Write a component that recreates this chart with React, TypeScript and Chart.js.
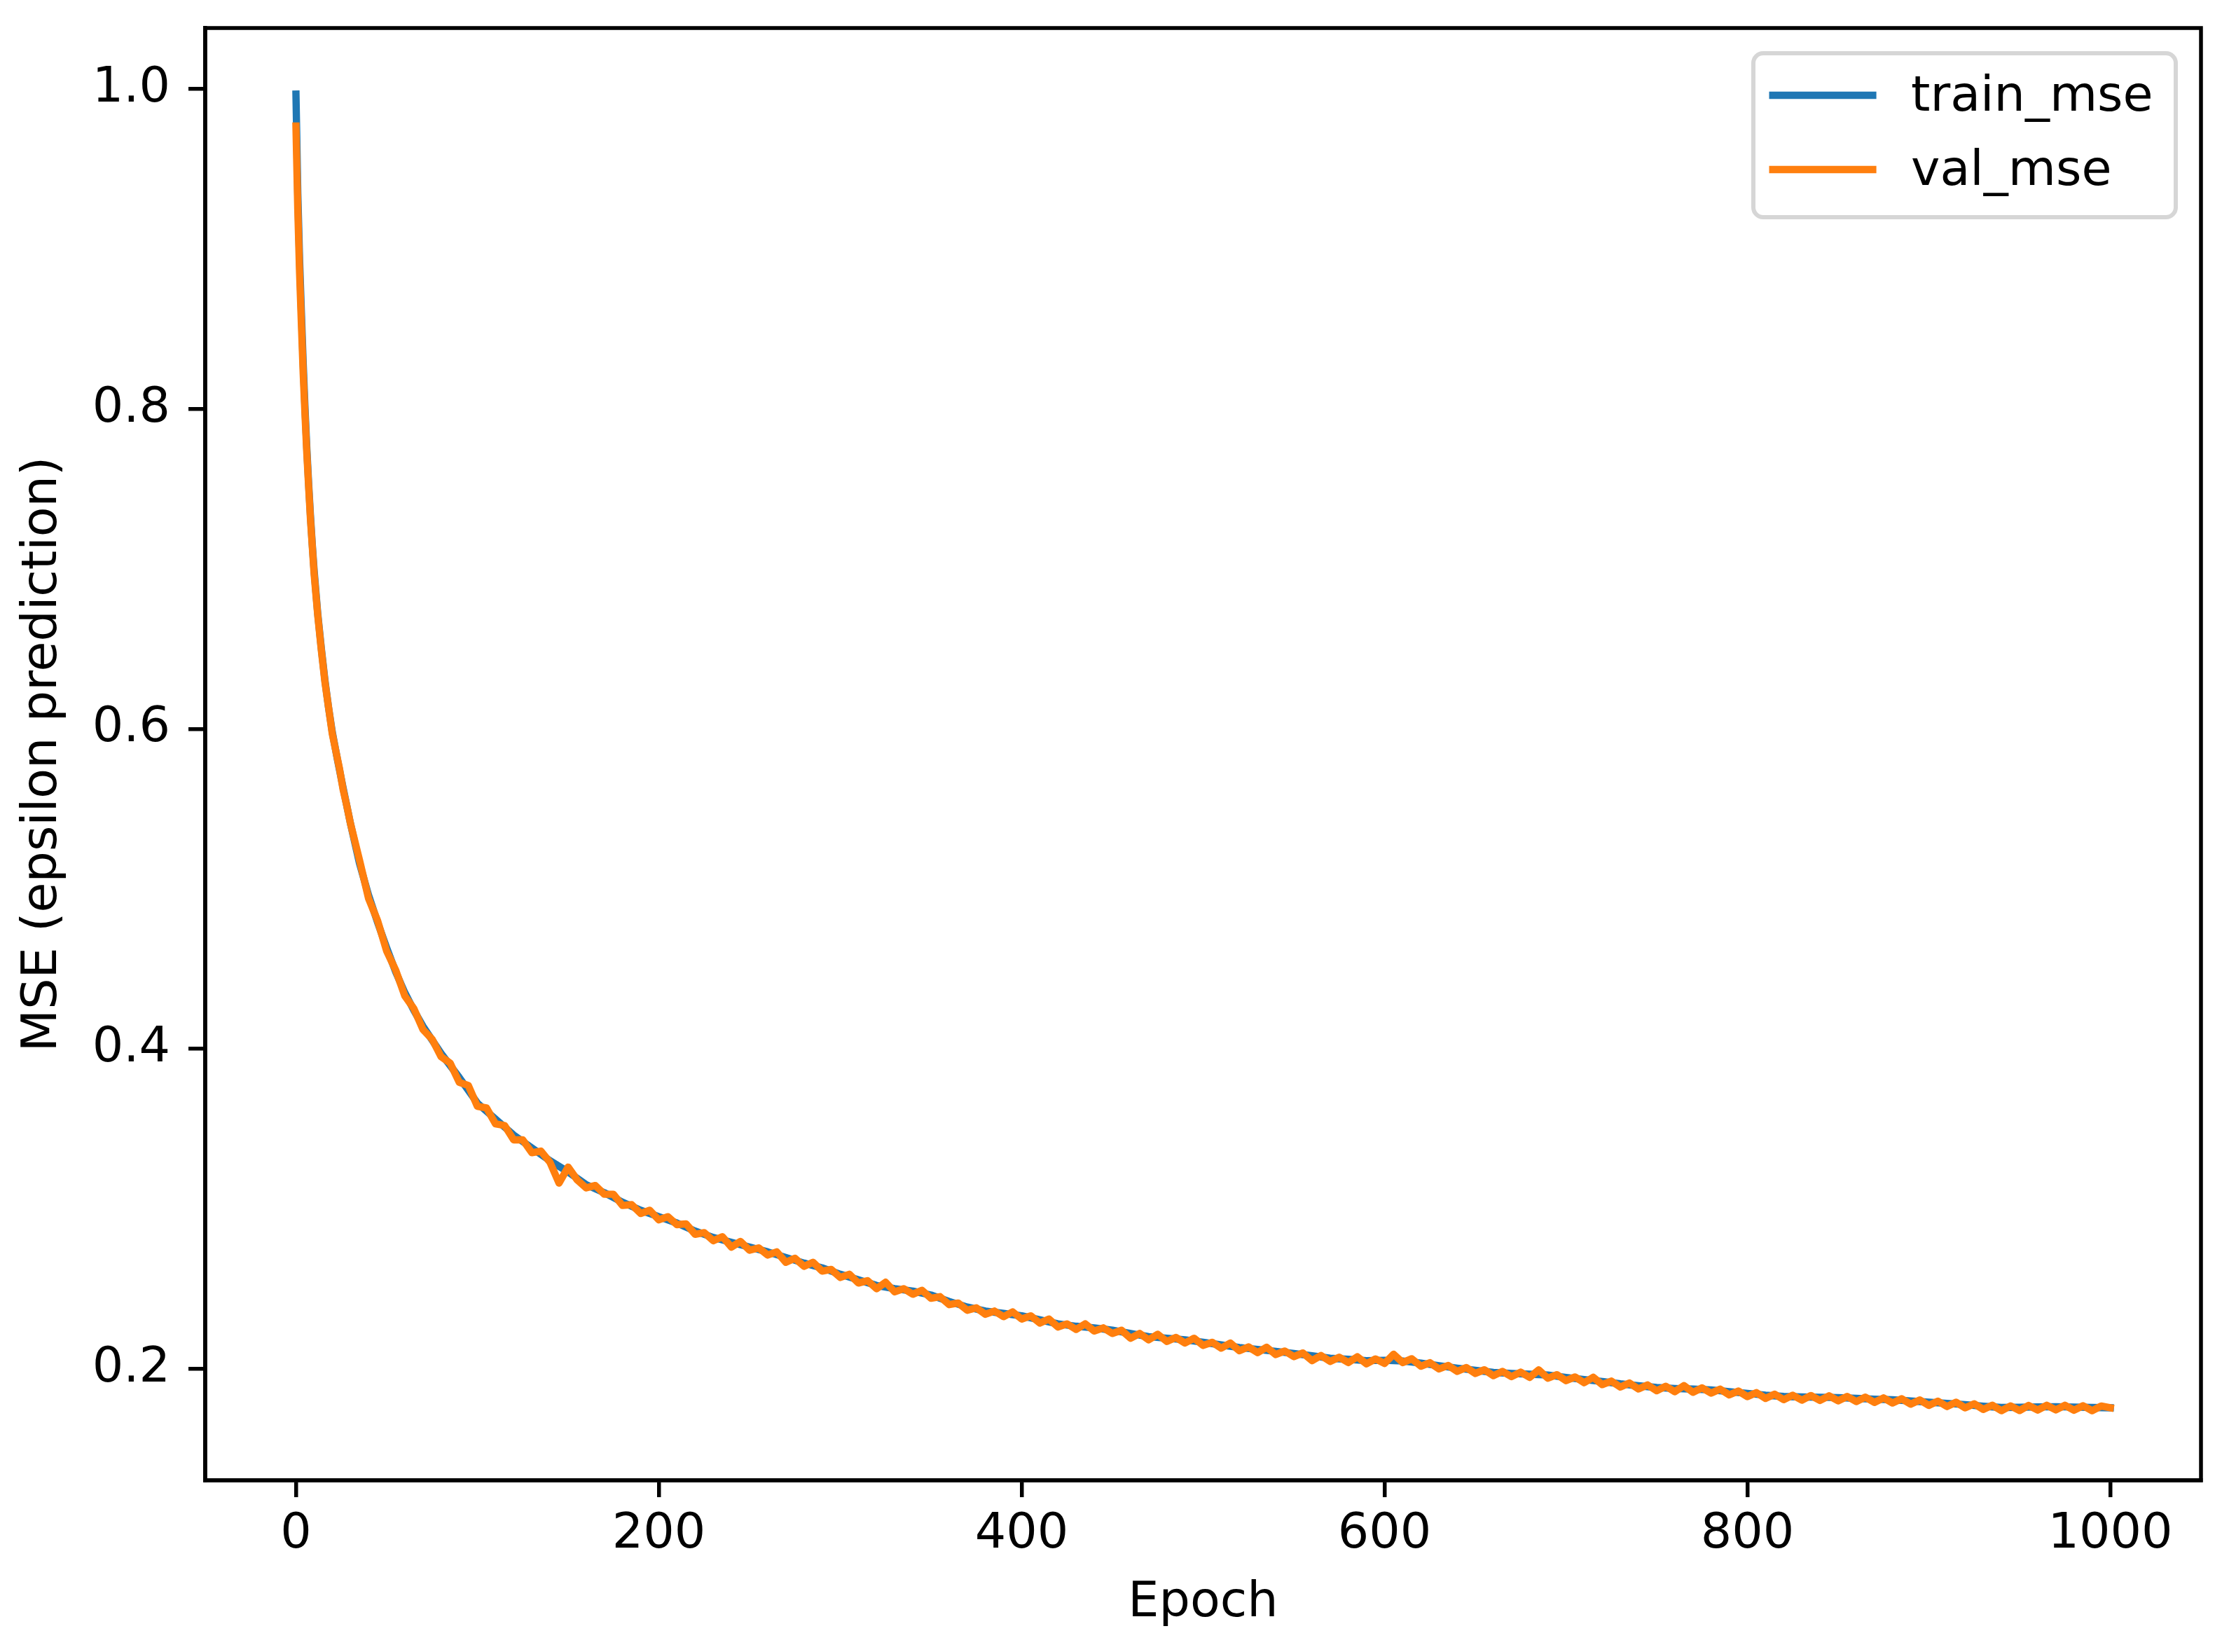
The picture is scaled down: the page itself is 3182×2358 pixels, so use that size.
import React, { useEffect, useRef } from 'react';
import { Chart, registerables } from 'chart.js';

Chart.register(...registerables);

const FONT = "'DejaVu Sans', 'Liberation Sans', sans-serif";

// ---------- data ----------
const seriesLabels = ['train_mse', 'val_mse'];
const seriesColors = ['#1f77b4', '#ff7f0e'];
const xAxisTitle = 'Epoch';
const yAxisTitle = 'MSE (epsilon prediction)';
const xTickValues = [0, 200, 400, 600, 800, 1000];
const yTickValues = [0.2, 0.4, 0.6, 0.8, 1.0];

const trainEpochs = [
  0, 1, 2, 3, 4, 5, 6, 7, 8, 9, 10, 12, 14, 16, 18, 20, 23, 26, 30, 35, 40, 45, 50, 55, 60, 65, 70, 80, 90,
  100, 110, 120, 130, 140, 150, 160, 170, 180, 190, 200, 210, 220, 230, 240, 250, 260, 270, 280, 290,
  300, 310, 320, 330, 340, 350, 360, 370, 380, 390, 400, 410, 420, 430, 440, 450, 460, 470, 480, 490,
  500, 510, 520, 530, 540, 550, 560, 570, 580, 590, 600, 610, 620, 630, 640, 650, 660, 670, 680, 690,
  700, 710, 720, 730, 740, 750, 760, 770, 780, 790, 800, 810, 820, 830, 840, 850, 860, 870, 880, 890,
  900, 910, 920, 930, 940, 950, 960, 970, 980, 990, 1000,
];
const trainMse = [
  0.9968, 0.935, 0.893, 0.86, 0.828, 0.8, 0.775, 0.753, 0.733, 0.715, 0.699, 0.672, 0.65, 0.63, 0.613, 0.598,
  0.58, 0.563, 0.541, 0.516, 0.496, 0.479, 0.463, 0.448, 0.435, 0.424, 0.414, 0.397, 0.382,
  0.366, 0.356, 0.346, 0.338, 0.33, 0.323, 0.315, 0.31, 0.304, 0.299, 0.295, 0.291, 0.286, 0.282, 0.279,
  0.276, 0.273, 0.2695, 0.266, 0.263, 0.259, 0.2555, 0.252, 0.25, 0.2485, 0.246, 0.242, 0.2385, 0.236,
  0.2345, 0.233, 0.2305, 0.228, 0.2265, 0.2255, 0.224, 0.222, 0.22, 0.219, 0.218, 0.2165, 0.2148, 0.2132,
  0.212, 0.2108, 0.2095, 0.208, 0.2065, 0.2058, 0.205, 0.2052, 0.2048, 0.2035, 0.2018, 0.2003, 0.199,
  0.1976, 0.197, 0.1965, 0.196, 0.1945, 0.1932, 0.192, 0.1905, 0.1893, 0.1882, 0.1876, 0.1872, 0.1867,
  0.1856, 0.1845, 0.1834, 0.1826, 0.1823, 0.1821, 0.1819, 0.1814, 0.1809, 0.1805, 0.1798, 0.179, 0.1783,
  0.1775, 0.1765, 0.1757, 0.1758, 0.1761, 0.1762, 0.176, 0.1757, 0.1755,
];

const valEpochs = [
  0, 1, 2, 3, 4, 5, 6, 7, 8, 9, 10, 12, 14, 16, 18, 20, 22, 24, 26, 28, 30,
  35, 40, 45, 50, 55, 60, 65, 70, 75, 80, 85, 90, 95, 100, 105, 110, 115, 120, 125, 130, 135, 140, 145,
  150, 155, 160, 165, 170, 175, 180, 185, 190, 195, 200, 205, 210, 215, 220, 225, 230, 235, 240, 245,
  250, 255, 260, 265, 270, 275, 280, 285, 290, 295, 300, 305, 310, 315, 320, 325, 330, 335, 340, 345,
  350, 355, 360, 365, 370, 375, 380, 385, 390, 395, 400, 405, 410, 415, 420, 425, 430, 435, 440, 445,
  450, 455, 460, 465, 470, 475, 480, 485, 490, 495, 500, 505, 510, 515, 520, 525, 530, 535, 540, 545,
  550, 555, 560, 565, 570, 575, 580, 585, 590, 595, 600, 605, 610, 615, 620, 625, 630, 635, 640, 645,
  650, 655, 660, 665, 670, 675, 680, 685, 690, 695, 700, 705, 710, 715, 720, 725, 730, 735, 740, 745,
  750, 755, 760, 765, 770, 775, 780, 785, 790, 795, 800, 805, 810, 815, 820, 825, 830, 835, 840, 845,
  850, 855, 860, 865, 870, 875, 880, 885, 890, 895, 900, 905, 910, 915, 920, 925, 930, 935, 940, 945,
  950, 955, 960, 965, 970, 975, 980, 985, 990, 995, 1000,
];
const valMse = [
  0.9768, 0.925, 0.885, 0.853, 0.822, 0.796, 0.772, 0.751, 0.731, 0.714, 0.697,
  0.671, 0.649, 0.629, 0.613, 0.597, 0.586, 0.575, 0.562, 0.552, 0.541,
  0.518, 0.494, 0.48, 0.461, 0.449, 0.433, 0.425, 0.412, 0.406, 0.395, 0.391, 0.379, 0.377, 0.364,
  0.363, 0.353, 0.352, 0.343, 0.343, 0.335, 0.336, 0.329, 0.316,
  0.326, 0.318, 0.313, 0.3145, 0.309, 0.309, 0.302, 0.3025, 0.297, 0.299,
  0.293, 0.295, 0.29, 0.2905, 0.284, 0.285, 0.28, 0.2825, 0.276, 0.2795,
  0.274, 0.2755, 0.271, 0.273, 0.2665, 0.269, 0.264, 0.2665, 0.261, 0.262,
  0.257, 0.259, 0.2535, 0.255, 0.25, 0.254, 0.248, 0.25, 0.2465, 0.249,
  0.244, 0.245, 0.24, 0.241, 0.2365, 0.238, 0.234, 0.236, 0.2325, 0.2355,
  0.231, 0.233, 0.2285, 0.231, 0.226, 0.228, 0.2245, 0.228, 0.2235, 0.2255,
  0.222, 0.224, 0.219, 0.222, 0.218, 0.2215, 0.217, 0.2195, 0.216, 0.219,
  0.2145, 0.2165, 0.2128, 0.216, 0.2112, 0.2136, 0.21, 0.2134, 0.2088, 0.211,
  0.2075, 0.2098, 0.205, 0.2082, 0.2045, 0.2071, 0.2038, 0.2074, 0.203, 0.2061,
  0.2032, 0.209, 0.2038, 0.2062, 0.2015, 0.2037, 0.1998, 0.202, 0.1983, 0.2007,
  0.197, 0.1993, 0.1956, 0.1983, 0.195, 0.1978, 0.1945, 0.1992, 0.194, 0.1962,
  0.1925, 0.1948, 0.1912, 0.1946, 0.19, 0.1922, 0.1885, 0.191, 0.1873, 0.1898,
  0.1862, 0.189, 0.1856, 0.1894, 0.1852, 0.188, 0.1847, 0.1872, 0.1836, 0.186,
  0.1825, 0.185, 0.1814, 0.184, 0.1806, 0.1834, 0.1803, 0.1832, 0.1801, 0.183,
  0.1799, 0.1826, 0.1794, 0.1822, 0.1789, 0.1817, 0.1785, 0.1812, 0.1778, 0.1804,
  0.177, 0.1797, 0.1763, 0.179, 0.1755, 0.178, 0.1745, 0.1771, 0.1737, 0.1767,
  0.1738, 0.177, 0.1741, 0.1771, 0.1742, 0.1771, 0.174, 0.1768, 0.1737, 0.1766,
  0.1755,
];

// ---------- plugins ----------
const framePlugin = {
  id: 'mplFrame',
  afterDatasetsDraw(chart: any) {
    const { ctx, chartArea } = chart;
    ctx.save();
    ctx.lineWidth = 5.5;
    ctx.strokeStyle = '#000';
    ctx.lineJoin = 'miter';
    ctx.strokeRect(
      chartArea.left,
      chartArea.top,
      chartArea.right - chartArea.left,
      chartArea.bottom - chartArea.top
    );
    ctx.restore();
  },
};

function roundedRectPath(ctx: CanvasRenderingContext2D, x: number, y: number, w: number, h: number, r: number) {
  ctx.beginPath();
  ctx.moveTo(x + r, y);
  ctx.lineTo(x + w - r, y);
  ctx.arcTo(x + w, y, x + w, y + r, r);
  ctx.lineTo(x + w, y + h - r);
  ctx.arcTo(x + w, y + h, x + w - r, y + h, r);
  ctx.lineTo(x + r, y + h);
  ctx.arcTo(x, y + h, x, y + h - r, r);
  ctx.lineTo(x, y + r);
  ctx.arcTo(x, y, x + r, y, r);
  ctx.closePath();
}

const legendPlugin = {
  id: 'mplLegend',
  afterDraw(chart: any) {
    const { ctx, chartArea } = chart;
    const w = 603;
    const h = 234;
    const x0 = chartArea.right - 36 - w;
    const y0 = chartArea.top + 36;
    ctx.save();
    roundedRectPath(ctx, x0, y0, w, h, 14);
    ctx.fillStyle = 'rgba(255,255,255,0.8)';
    ctx.fill();
    ctx.lineWidth = 6;
    ctx.strokeStyle = 'rgba(204,204,204,0.8)';
    ctx.stroke();
    chart.data.datasets.forEach((ds: any, i: number) => {
      const hy = y0 + 60 + i * 106;
      ctx.beginPath();
      ctx.moveTo(x0 + 22.5, hy);
      ctx.lineTo(x0 + 175.6, hy);
      ctx.strokeStyle = ds.borderColor;
      ctx.lineWidth = 10.4;
      ctx.lineCap = 'butt';
      ctx.stroke();
      ctx.fillStyle = '#000';
      ctx.font = `70px ${FONT}`;
      ctx.textBaseline = 'alphabetic';
      ctx.textAlign = 'left';
      ctx.fillText(ds.label, x0 + 225, y0 + 82 + i * 106);
    });
    ctx.restore();
  },
};

export default function App() {
  const canvasRef = useRef<HTMLCanvasElement | null>(null);

  useEffect(() => {
    const canvas = canvasRef.current;
    if (!canvas) return;
    const trainData = trainEpochs.map((e, i) => ({ x: e, y: trainMse[i] }));
    const valData = valEpochs.map((e, i) => ({ x: e, y: valMse[i] }));

    const chart = new Chart(canvas, {
      type: 'line',
      data: {
        datasets: [
          {
            label: seriesLabels[0],
            data: trainData,
            borderColor: seriesColors[0],
            backgroundColor: seriesColors[0],
            borderWidth: 10.4,
            borderJoinStyle: 'round',
            borderCapStyle: 'square',
            pointRadius: 0,
            tension: 0,
            order: 1,
          },
          {
            label: seriesLabels[1],
            data: valData,
            borderColor: seriesColors[1],
            backgroundColor: seriesColors[1],
            borderWidth: 10.4,
            borderJoinStyle: 'round',
            borderCapStyle: 'square',
            pointRadius: 0,
            tension: 0,
            order: 0,
          },
        ],
      },
      options: {
        responsive: false,
        animation: false,
        devicePixelRatio: 1,
        events: [],
        layout: { padding: { top: 40, right: 40, left: 0, bottom: 0 } },
        plugins: {
          legend: { display: false },
          tooltip: { enabled: false },
          title: { display: false },
        },
        scales: {
          x: {
            type: 'linear',
            min: -50,
            max: 1050,
            afterBuildTicks: (s: any) => {
              s.ticks = xTickValues.map((v) => ({ value: v }));
            },
            afterFit: (s: any) => {
              s.height = 245;
              s.paddingLeft = 0;
              s.paddingRight = 0;
            },
            ticks: {
              font: { size: 70, family: FONT },
              color: '#000',
              padding: 12,
              maxRotation: 0,
              autoSkip: false,
              callback: (v: any) => String(v),
            },
            grid: {
              drawOnChartArea: false,
              drawTicks: true,
              tickLength: 24,
              tickWidth: 5.5,
              tickColor: '#000',
              lineWidth: 5.5,
              color: '#000',
            },
            border: { display: true, width: 5.5, color: '#000' },
            title: {
              display: true,
              text: xAxisTitle,
              font: { size: 70, family: FONT },
              color: '#000',
              padding: { top: 0, bottom: 27 },
            },
          },
          y: {
            type: 'linear',
            min: 0.13016,
            max: 1.0381,
            afterBuildTicks: (s: any) => {
              s.ticks = yTickValues.map((v) => ({ value: v }));
            },
            afterFit: (s: any) => {
              s.width = 293;
              s.paddingTop = 0;
              s.paddingBottom = 0;
            },
            ticks: {
              font: { size: 70, family: FONT },
              color: '#000',
              padding: 26,
              autoSkip: false,
              callback: (v: any) => Number(v).toFixed(1),
            },
            grid: {
              drawOnChartArea: false,
              drawTicks: true,
              tickLength: 24,
              tickWidth: 5.5,
              tickColor: '#000',
              lineWidth: 5.5,
              color: '#000',
            },
            border: { display: true, width: 5.5, color: '#000' },
            title: {
              display: true,
              text: yAxisTitle,
              font: { size: 70, family: FONT },
              color: '#000',
              padding: { top: 20, bottom: 0 },
            },
          },
        },
      } as any,
      plugins: [framePlugin, legendPlugin],
    });

    return () => {
      chart.destroy();
    };
  }, []);

  return (
    <div
      style={{
        position: 'fixed',
        left: 0,
        top: 0,
        width: 3182,
        height: 2358,
        background: '#ffffff',
      }}
    >
      <canvas ref={canvasRef} width={3182} height={2358} style={{ display: 'block', width: 3182, height: 2358 }} />
    </div>
  );
}
